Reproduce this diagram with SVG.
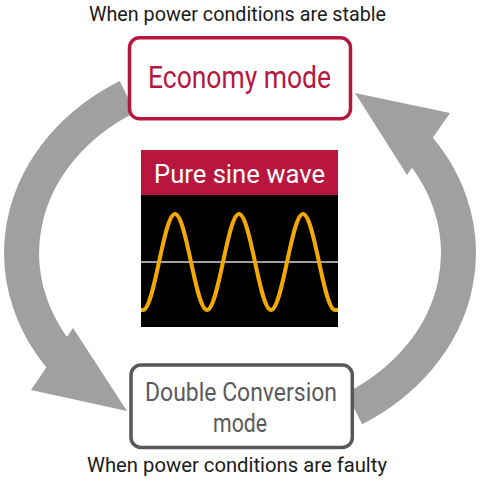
<svg xmlns="http://www.w3.org/2000/svg" width="480" height="487" viewBox="0 0 480 487">
  <style>
    .band { fill: none; stroke: #9fa0a0; stroke-width: 35; stroke-linecap: butt; }
    .head { fill: #9fa0a0; stroke: none; }
    .lbl { font-family: "Liberation Sans Narrow", Roboto, "Liberation Sans", sans-serif; }
    .cap { font-size: 19.5px; fill: #1a1a1a; }
    .node-text { font-size: 30.5px; }
  </style>
  <defs>
    <clipPath id="scope">
      <rect x="141" y="195" width="197" height="132"/>
    </clipPath>
  </defs>
  <rect width="480" height="487" fill="#ffffff"/>

  <g id="connectors">
    <g id="arrow-stable-to-faulty">
      <path class="band" d="M127.5,96.6 A218.5,182.5 0 0 0 70.2,367.8"/>
      <polygon class="head" points="31,390 127,411 73,328"/>
    </g>
    <g id="arrow-faulty-to-stable">
      <path class="band" d="M354.2,408.6 A218.5,182.5 0 0 0 409.8,138.2"/>
      <polygon class="head" points="450,113 355,93 407,175"/>
    </g>
  </g>

  <g id="label-stable">
    <text class="lbl cap" x="237.5" y="21" text-anchor="middle" textLength="297" lengthAdjust="spacingAndGlyphs">When power conditions are stable</text>
  </g>

  <g id="node-economy">
    <rect x="129.5" y="37.8" width="221" height="81" rx="10" fill="#ffffff" stroke="#b5173f" stroke-width="3.5"/>
    <text class="lbl node-text" x="239.5" y="88" text-anchor="middle" fill="#b5173f" textLength="183" lengthAdjust="spacingAndGlyphs">Economy mode</text>
  </g>

  <g id="node-sine">
    <rect x="141" y="150" width="197" height="45" fill="#b8163e"/>
    <rect x="141" y="195" width="197" height="132" fill="#000000"/>
    <text class="lbl" x="239.5" y="183" text-anchor="middle" fill="#ffffff" font-size="26" textLength="171" lengthAdjust="spacingAndGlyphs">Pure sine wave</text>
    <line x1="141" y1="262" x2="338" y2="262" stroke="#a0a0a0" stroke-width="1.8"/>
    <path clip-path="url(#scope)" fill="none" stroke="#f2a900" stroke-width="4" d="M137,310 H143 C154.63,310 163.37,214 175,214 S195.37,310 207,310 S227.37,214 239,214 S259.37,310 271,310 S291.37,214 303,214 S323.37,310 335,310 H342"/>
  </g>

  <g id="node-double">
    <rect x="131" y="365" width="221.3" height="82.5" rx="10" fill="#ffffff" stroke="#58585a" stroke-width="3.5"/>
    <text class="lbl" x="241" y="401" text-anchor="middle" fill="#5a5a5c" font-size="25.5" textLength="192" lengthAdjust="spacingAndGlyphs">Double Conversion</text>
    <text class="lbl" x="240" y="432" text-anchor="middle" fill="#5a5a5c" font-size="25.5" textLength="54" lengthAdjust="spacingAndGlyphs">mode</text>
  </g>

  <g id="label-faulty">
    <text class="lbl cap" x="237" y="471.7" text-anchor="middle" textLength="300" lengthAdjust="spacingAndGlyphs">When power conditions are faulty</text>
  </g>
</svg>
